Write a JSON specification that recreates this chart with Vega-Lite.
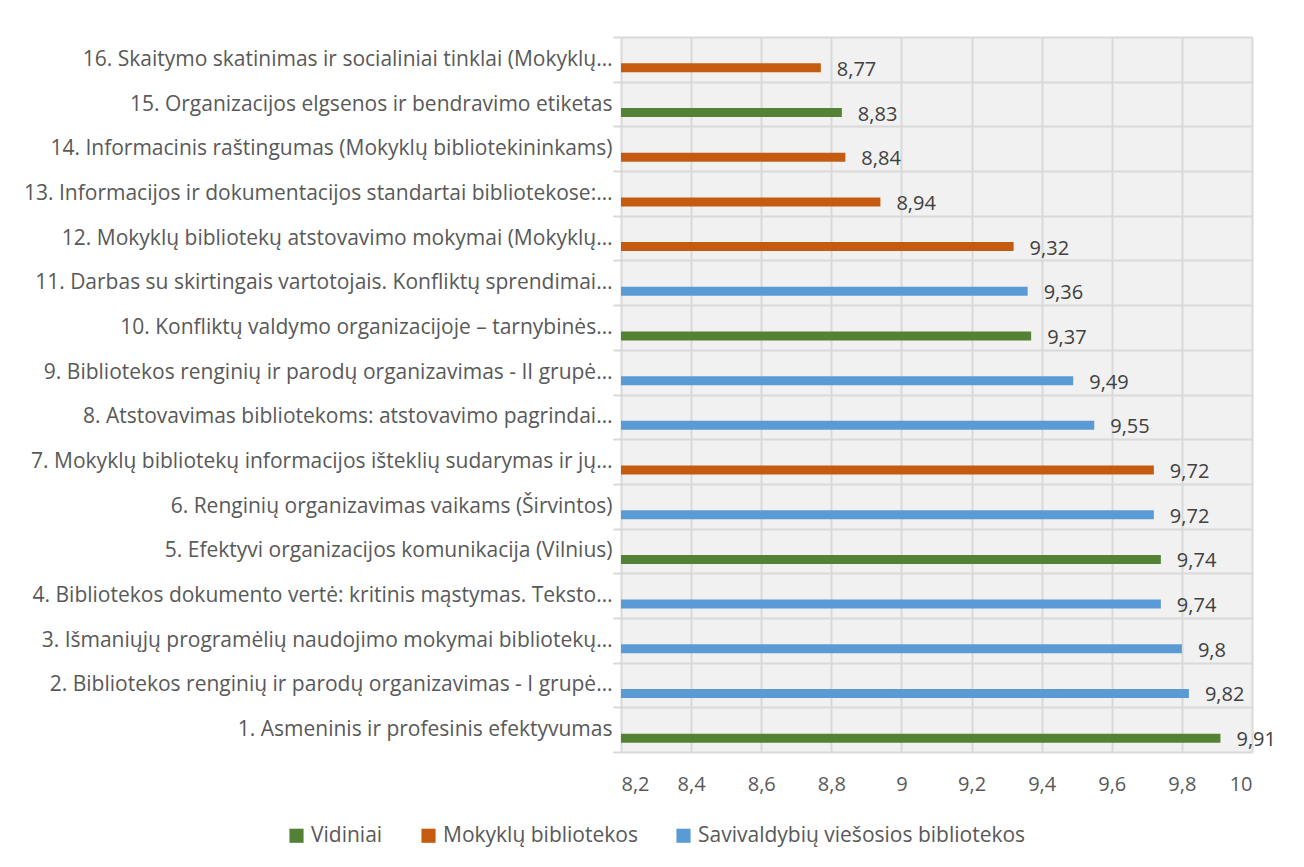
{
  "$schema": "https://vega.github.io/schema/vega-lite/v6.json",
  "width": 631,
  "height": 715,
  "autosize": {"type": "none"},
  "padding": {"left": 621, "top": 37, "right": 52, "bottom": 115},
  "background": "white",
  "config": {
    "locale": {"number": {"decimal": ",", "thousands": "\u00a0", "grouping": [3], "currency": ["", "\u00a0€"]}},
    "font": "Open Sans",
    "view": {"fill": "#f1f1f1", "stroke": null}
  },
  "data": {
    "values": [
      {"course": "16. Skaitymo skatinimas ir socialiniai tinklai (Mokyklų…", "value": 8.77, "group": "Mokyklų bibliotekos"},
      {"course": "15. Organizacijos elgsenos ir bendravimo etiketas", "value": 8.83, "group": "Vidiniai"},
      {"course": "14. Informacinis raštingumas (Mokyklų bibliotekininkams)", "value": 8.84, "group": "Mokyklų bibliotekos"},
      {"course": "13. Informacijos ir dokumentacijos standartai bibliotekose:…", "value": 8.94, "group": "Mokyklų bibliotekos"},
      {"course": "12. Mokyklų bibliotekų atstovavimo mokymai (Mokyklų…", "value": 9.32, "group": "Mokyklų bibliotekos"},
      {"course": "11. Darbas su skirtingais vartotojais. Konfliktų sprendimai…", "value": 9.36, "group": "Savivaldybių viešosios bibliotekos"},
      {"course": "10. Konfliktų valdymo organizacijoje – tarnybinės…", "value": 9.37, "group": "Vidiniai"},
      {"course": "9. Bibliotekos renginių ir parodų organizavimas - II grupė…", "value": 9.49, "group": "Savivaldybių viešosios bibliotekos"},
      {"course": "8. Atstovavimas bibliotekoms: atstovavimo pagrindai…", "value": 9.55, "group": "Savivaldybių viešosios bibliotekos"},
      {"course": "7. Mokyklų bibliotekų informacijos išteklių sudarymas ir jų…", "value": 9.72, "group": "Mokyklų bibliotekos"},
      {"course": "6. Renginių organizavimas vaikams (Širvintos)", "value": 9.72, "group": "Savivaldybių viešosios bibliotekos"},
      {"course": "5. Efektyvi organizacijos komunikacija (Vilnius)", "value": 9.74, "group": "Vidiniai"},
      {"course": "4. Bibliotekos dokumento vertė: kritinis mąstymas. Teksto…", "value": 9.74, "group": "Savivaldybių viešosios bibliotekos"},
      {"course": "3. Išmaniųjų programėlių naudojimo mokymai bibliotekų…", "value": 9.8, "group": "Savivaldybių viešosios bibliotekos"},
      {"course": "2. Bibliotekos renginių ir parodų organizavimas - I grupė…", "value": 9.82, "group": "Savivaldybių viešosios bibliotekos"},
      {"course": "1. Asmeninis ir profesinis efektyvumas", "value": 9.91, "group": "Vidiniai"}
    ]
  },
  "layer": [
    {
      "mark": {"type": "bar", "yOffset": 8.5, "height": 9},
      "encoding": {
        "y": {
          "field": "course", "type": "nominal", "sort": null,
          "scale": {"paddingInner": 0, "paddingOuter": 0},
          "axis": {
            "title": null, "labelFontSize": 21, "labelColor": "#595959", "labelFont": "Open Sans",
            "tickBand": "extent", "grid": true, "gridColor": "#d9d9d9", "gridWidth": 2,
            "tickColor": "#d9d9d9", "tickWidth": 2, "tickSize": 8, "labelPadding": 1,
            "domain": false, "labelLimit": 620
          }
        },
        "x": {
          "field": "value", "type": "quantitative",
          "scale": {"domain": [8.2, 10], "zero": false, "nice": false},
          "axis": {
            "title": null, "values": [8.2, 8.4, 8.6, 8.8, 9, 9.2, 9.4, 9.6, 9.8, 10],
            "format": "~g", "grid": true, "gridColor": "#d9d9d9", "gridWidth": 2,
            "ticks": false, "domain": false, "labelFontSize": 20, "labelColor": "#595959",
            "labelPadding": 22, "labelFont": "Open Sans"
          }
        },
        "x2": {"datum": 8.2},
        "color": {
          "field": "group", "type": "nominal",
          "scale": {
            "domain": ["Vidiniai", "Mokyklų bibliotekos", "Savivaldybių viešosios bibliotekos"],
            "range": ["#548235", "#C55A11", "#5B9BD5"]
          },
          "legend": {
            "orient": "none", "legendX": -335, "legendY": 788, "direction": "horizontal",
            "title": null, "symbolType": "square", "symbolSize": 200, "symbolStrokeWidth": 0,
            "labelFontSize": 21, "labelColor": "#595959", "labelFont": "Open Sans",
            "labelLimit": 500, "columnPadding": 35, "labelOffset": 4, "padding": 0
          }
        }
      }
    },
    {
      "mark": {"type": "text", "align": "left", "baseline": "middle", "dx": 16, "yOffset": 10.5, "fontSize": 20, "color": "#404040", "font": "Open Sans"},
      "encoding": {
        "y": {"field": "course", "type": "nominal", "sort": null},
        "x": {"field": "value", "type": "quantitative"},
        "text": {"field": "value", "type": "quantitative", "format": "~g"}
      }
    }
  ]
}
